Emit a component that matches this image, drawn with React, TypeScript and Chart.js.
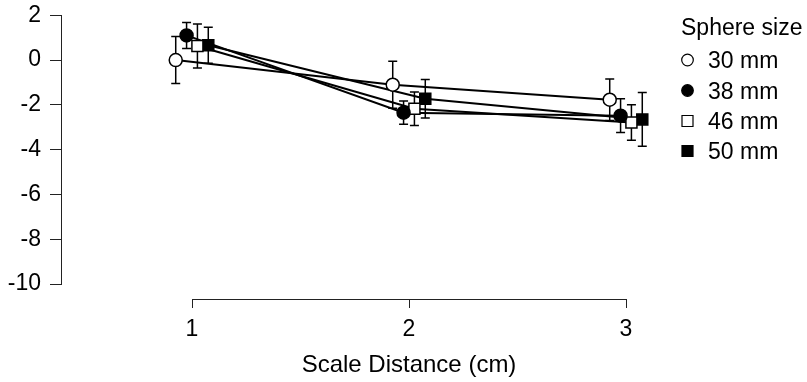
import React, { useEffect, useRef } from "react";
import { Chart, registerables } from "chart.js";

Chart.register(...registerables);

// ---- data ----
const distances = [1, 2, 3];
const seriesLabels = ["30 mm", "38 mm", "46 mm", "50 mm"];
const mean30 = [0, -1.1, -1.77];
const err30 = [1.05, 1.05, 0.93];
const mean38 = [1.1, -2.35, -2.48];
const err38 = [0.58, 0.52, 0.75];
const mean46 = [0.63, -2.17, -2.79];
const err46 = [0.98, 0.75, 0.79];
const mean50 = [0.66, -1.73, -2.65];
const err50 = [0.8, 0.86, 1.2];
const yTicks = [-10, -8, -6, -4, -2, 0, 2];
const xTicks = [1, 2, 3];
const legendTitle = "Sphere size";
const xTitle = "Scale Distance (cm)";

// ---- styling ----
const FONT = '"Liberation Sans", Arial, Helvetica, sans-serif';
const dodge = [-0.075, -0.025, 0.025, 0.075];
const styles = [
  { shape: "circle", fill: "#ffffff", r: 6.5 },
  { shape: "circle", fill: "#000000", r: 6.5 },
  { shape: "rect", fill: "#ffffff", r: 7.8 },
  { shape: "rect", fill: "#000000", r: 7.8 },
];
const means = [mean30, mean38, mean46, mean50];
const errs = [err30, err38, err46, err50];
const PX_PER_UNIT_Y = 22.583;

function buildDatasets() {
  const lines: any[] = [];
  const points: any[] = [];
  means.forEach((m, i) => {
    const pts = distances.map((d, j) => ({ x: d + dodge[i], y: m[j] }));
    lines.push({
      label: seriesLabels[i] + " line",
      data: pts,
      showLine: true,
      borderColor: "#000",
      borderWidth: 2,
      pointRadius: 0,
      pointHoverRadius: 0,
      tension: 0,
      order: 1,
      clip: false,
      role: "line",
    });
    points.push({
      label: seriesLabels[i],
      data: pts,
      showLine: false,
      pointStyle: styles[i].shape,
      pointRadius: styles[i].r,
      pointHoverRadius: styles[i].r,
      pointBackgroundColor: styles[i].fill,
      pointBorderColor: "#000",
      pointBorderWidth: 1.5,
      order: 0,
      clip: false,
      role: "points",
      errors: errs[i],
    });
  });
  return [...lines, ...points];
}

const errorBarPlugin = {
  id: "errorBars",
  beforeDatasetsDraw(chart: any) {
    chart.$errDrawn = false;
  },
  beforeDatasetDraw(chart: any, args: any) {
    const ds = chart.data.datasets[args.index];
    if (ds.role !== "points" || chart.$errDrawn) return;
    chart.$errDrawn = true;
    const ctx = chart.ctx;
    const xs = chart.scales.x;
    const ys = chart.scales.y;
    ctx.save();
    ctx.strokeStyle = "#000";
    ctx.lineWidth = 1.5;
    chart.data.datasets.forEach((d: any) => {
      if (d.role !== "points") return;
      d.data.forEach((p: any, j: number) => {
        const e = d.errors[j];
        const px = xs.getPixelForValue(p.x);
        const top = ys.getPixelForValue(p.y + e);
        const bot = ys.getPixelForValue(p.y - e);
        const cap = 4.5;
        ctx.beginPath();
        ctx.moveTo(px, top);
        ctx.lineTo(px, bot);
        ctx.moveTo(px - cap, top);
        ctx.lineTo(px + cap, top);
        ctx.moveTo(px - cap, bot);
        ctx.lineTo(px + cap, bot);
        ctx.stroke();
      });
    });
    ctx.restore();
  },
};

const axisLinePlugin = {
  id: "axisLines",
  afterDraw(chart: any) {
    const ctx = chart.ctx;
    const xs = chart.scales.x;
    const ys = chart.scales.y;
    const area = chart.chartArea;
    ctx.save();
    ctx.strokeStyle = "#222";
    ctx.lineWidth = 1;
    const ax = Math.round(area.left) - 0.5;
    ctx.beginPath();
    ctx.moveTo(ax, Math.round(ys.getPixelForValue(yTicks[yTicks.length - 1])));
    ctx.lineTo(ax, Math.round(ys.getPixelForValue(yTicks[0])) + 1);
    ctx.stroke();
    const ay = Math.round(area.bottom) + 0.5;
    ctx.beginPath();
    ctx.moveTo(Math.round(xs.getPixelForValue(xTicks[0])), ay);
    ctx.lineTo(Math.round(xs.getPixelForValue(xTicks[xTicks.length - 1])) + 1, ay);
    ctx.stroke();
    ctx.restore();
  },
};

const legendPlugin = {
  id: "customLegend",
  afterDraw(chart: any) {
    const ctx = chart.ctx;
    const size = 23;
    ctx.save();
    ctx.font = `${size}px ${FONT}`;
    ctx.fillStyle = "#000";
    ctx.textBaseline = "alphabetic";
    ctx.textAlign = "left";
    ctx.fillText(legendTitle, 681, 26.5 + 0.358 * size);
    const centers = [60, 90.5, 121, 151];
    seriesLabels.forEach((lab, i) => {
      const cy = centers[i];
      const cx = 687.5;
      ctx.beginPath();
      if (styles[i].shape === "circle") {
        ctx.arc(cx, cy, 5.8, 0, Math.PI * 2);
      } else {
        ctx.rect(cx - 5.5, cy - 5.5, 11, 11);
      }
      ctx.fillStyle = styles[i].fill;
      ctx.fill();
      ctx.lineWidth = 1.2;
      ctx.strokeStyle = "#000";
      ctx.stroke();
      ctx.fillStyle = "#000";
      ctx.fillText(lab, 708, cy + 0.358 * size);
    });
    ctx.restore();
  },
};

export default function App() {
  const ref = useRef<HTMLCanvasElement | null>(null);
  useEffect(() => {
    if (!ref.current) return;
    Chart.defaults.font.family = FONT;
    const chart = new Chart(ref.current, {
      type: "scatter",
      data: { datasets: buildDatasets() as any },
      options: {
        animation: false,
        responsive: false,
        events: [],
        layout: { padding: { top: 0, right: 51, left: 0, bottom: 0 } },
        plugins: {
          legend: { display: false },
          tooltip: { enabled: false },
        },
        scales: {
          x: {
            type: "linear",
            min: 1 - 130 / 217,
            max: 3 + 130 / 217,
            afterBuildTicks: (s: any) => {
              s.ticks = xTicks.map((v) => ({ value: v }));
            },
            afterFit: (s: any) => {
              s.height = 83;
              s.paddingLeft = 0;
              s.paddingRight = 0;
            },
            grid: {
              display: true,
              drawOnChartArea: false,
              drawTicks: true,
              tickLength: 9,
              color: "#222",
              lineWidth: 1,
            },
            border: { display: false },
            ticks: {
              autoSkip: false,
              maxRotation: 0,
              padding: 8,
              color: "#000",
              font: { size: 23, family: FONT },
              callback: (v: any) => String(v),
            },
            title: {
              display: true,
              text: xTitle,
              color: "#000",
              font: { size: 24, family: FONT },
              padding: { top: 0, bottom: 2 },
            },
          },
          y: {
            type: "linear",
            min: -10 - 15 / PX_PER_UNIT_Y,
            max: 2 + 6 / PX_PER_UNIT_Y,
            afterBuildTicks: (s: any) => {
              s.ticks = yTicks.map((v) => ({ value: v }));
            },
            afterFit: (s: any) => {
              s.width = 62;
              s.paddingTop = 0;
              s.paddingBottom = 0;
            },
            grid: {
              display: true,
              drawOnChartArea: false,
              drawTicks: true,
              tickLength: 12,
              color: "#222",
              lineWidth: 1,
            },
            border: { display: false },
            ticks: {
              autoSkip: false,
              padding: 9,
              color: "#000",
              font: { size: 23, family: FONT },
              callback: (v: any) => String(v),
            },
          },
        },
      },
      plugins: [errorBarPlugin, axisLinePlugin, legendPlugin],
    });
    return () => chart.destroy();
  }, []);
  return (
    <div style={{ position: "fixed", left: 0, top: 0, width: 807, height: 382, background: "#fff" }}>
      <canvas ref={ref} width={807} height={382} style={{ display: "block" }} />
    </div>
  );
}
